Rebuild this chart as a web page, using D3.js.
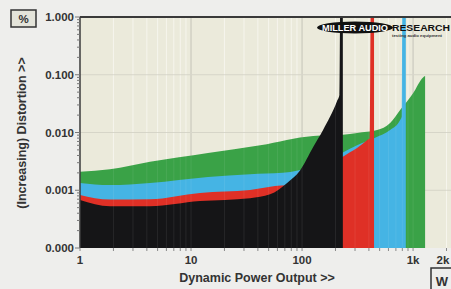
<!DOCTYPE html>
<html><head><meta charset="utf-8">
<script src="https://cdn.jsdelivr.net/npm/d3@7"></script>
<style>html,body{margin:0;padding:0;background:#eeeeec;overflow:hidden}</style>
</head><body><svg id="c" width="451" height="289"></svg>
<script>
// ---- data ----
const greenPower = [1, 1.86, 4.27, 14.2, 42, 126, 233, 313, 474, 621, 764, 1000, 1230, 1283];
const greenDist  = [0.0021, 0.0023, 0.0031, 0.0044, 0.006, 0.0087, 0.0091, 0.0098, 0.011, 0.0146, 0.0245, 0.048, 0.09, 0.095];

const bluePower = [1, 1.86, 4.27, 14.2, 34, 67, 126, 233, 313, 455, 621, 764, 790, 800, 860];
const blueDist  = [0.00134, 0.00123, 0.00134, 0.0017, 0.0019, 0.002, 0.0026, 0.0045, 0.006, 0.0081, 0.011, 0.0164, 0.019, 2, 2];

const redPower = [1, 1.86, 4.27, 12.05, 34, 57, 96, 154, 233, 313, 390, 408, 416, 445];
const redDist  = [0.00083, 0.00069, 0.0007, 0.0009, 0.00101, 0.00118, 0.0013, 0.0018, 0.0038, 0.0054, 0.0075, 0.008, 2, 2];

const blackPower = [1, 1.86, 4.27, 12.05, 34, 51.5, 73.3, 95.9, 126, 154.6, 206.7, 217, 221, 233];
const blackDist  = [0.00068, 0.00053, 0.00053, 0.00065, 0.00073, 0.00085, 0.00134, 0.0022, 0.0056, 0.011, 0.035, 0.045, 2, 2];

const yTickValues = [1, 0.1, 0.01, 0.001, 0.0001];
const yTickLabels = ["1.000", "0.100", "0.010", "0.001", "0.000"];
const xTickValues = [1, 10, 100, 1000, 2000];
const xTickLabels = ["1", "10", "100", "1k", "2k"];

const seriesColors = ["#3aa247", "#45b4e4", "#df3026", "#151517"];

// ---- layout ----
const svg = d3.select("#c");
const L = 80, T = 17, B = 248, R = 451;
const x = d3.scaleLog().domain([1, 2000]).range([L, 446.5]);
const y = d3.scaleLog().domain([0.0001, 1]).range([B, T]);
const FONT = "'Liberation Sans', Arial, sans-serif";

svg.append("rect").attr("x", 0).attr("y", 0).attr("width", 451).attr("height", 289).attr("fill", "#eeeeec");
svg.append("rect").attr("x", L).attr("y", T).attr("width", R - L).attr("height", B - T).attr("fill", "#ebeadb");

const defs = svg.append("defs");
defs.append("clipPath").attr("id", "pc").append("rect")
  .attr("x", L).attr("y", T).attr("width", R - L).attr("height", B - T);

// minor vertical grid
const minorX = [];
for (let d = 1; d <= 1000; d *= 10) for (let k = 1; k <= 9; k++) { const v = d * k; if (v <= 2500) minorX.push(v); }
const grid = svg.append("g").attr("clip-path", "url(#pc)");
grid.selectAll("line.vx").data(minorX).join("line")
  .attr("x1", d => x(d)).attr("x2", d => x(d)).attr("y1", T).attr("y2", B)
  .attr("stroke", d => [10, 100, 1000].includes(d) ? "#c9c8bc" : "#f6f5ec")
  .attr("stroke-width", d => [10, 100, 1000].includes(d) ? 1.2 : 1);
grid.selectAll("line.hy").data([0.1, 0.01, 0.001]).join("line")
  .attr("x1", L).attr("x2", R).attr("y1", d => y(d)).attr("y2", d => y(d))
  .attr("stroke", "#d6d5c8").attr("stroke-width", 1);

// areas
const area = d3.area()
  .x(d => x(d[0])).y0(y(0.0001)).y1(d => y(Math.min(d[1], 2)))
  .curve(d3.curveMonotoneX);
const series = [
  d3.zip(greenPower, greenDist),
  d3.zip(bluePower, blueDist),
  d3.zip(redPower, redDist),
  d3.zip(blackPower, blackDist)
];
const ag = svg.append("g").attr("clip-path", "url(#pc)");
ag.selectAll("path").data(series).join("path")
  .attr("d", area).attr("fill", (d, i) => seriesColors[i]);

// faint gridlines over fills
ag.selectAll("line.ov").data(minorX).join("line")
  .attr("x1", d => x(d)).attr("x2", d => x(d)).attr("y1", T).attr("y2", B)
  .attr("stroke", "#ffffff").attr("stroke-opacity", 0.08);

// axes lines
svg.append("line").attr("x1", L).attr("x2", R).attr("y1", T).attr("y2", T).attr("stroke", "#3a3a3a").attr("stroke-width", 2);
svg.append("line").attr("x1", L).attr("x2", L).attr("y1", T).attr("y2", B).attr("stroke", "#3a3a3a").attr("stroke-width", 1.5);

// y ticks
const minorY = [];
for (let d = 0.0001; d < 1; d *= 10) for (let k = 1; k <= 9; k++) minorY.push(d * k);
minorY.push(1);
svg.append("g").selectAll("line").data(minorY).join("line")
  .attr("x1", d => yTickValues.some(v => Math.abs(v - d) / d < 1e-6) ? L - 5 : L - 3).attr("x2", L)
  .attr("y1", d => y(d)).attr("y2", d => y(d)).attr("stroke", "#777").attr("stroke-width", 1);
svg.append("g").selectAll("text").data(yTickValues).join("text")
  .attr("x", L - 6).attr("y", d => y(d) + 4).attr("text-anchor", "end")
  .attr("font-family", FONT).attr("font-weight", "bold").attr("font-size", 11.5).attr("fill", "#333")
  .text((d, i) => yTickLabels[i]);

// x ticks
svg.append("g").selectAll("line").data(minorX).join("line")
  .attr("x1", d => x(d)).attr("x2", d => x(d)).attr("y1", B).attr("y2", B + 3)
  .attr("stroke", "#888").attr("stroke-width", 1);
svg.append("g").selectAll("text").data(xTickValues).join("text")
  .attr("x", d => Math.min(x(d), 443)).attr("y", 264).attr("text-anchor", "middle")
  .attr("font-family", FONT).attr("font-weight", "bold").attr("font-size", 11.5).attr("fill", "#333")
  .text((d, i) => xTickLabels[i]);

// titles
svg.append("text").attr("x", 257).attr("y", 282).attr("text-anchor", "middle")
  .attr("font-family", FONT).attr("font-weight", "bold").attr("font-size", 12.5).attr("fill", "#333")
  .text("Dynamic Power Output >>");
svg.append("text").attr("transform", "translate(26,133) rotate(-90)").attr("text-anchor", "middle")
  .attr("font-family", FONT).attr("font-weight", "bold").attr("font-size", 12.5).attr("fill", "#333")
  .text("(Increasing) Distortion >>");

// % box
svg.append("rect").attr("x", 11).attr("y", 10).attr("width", 25).attr("height", 17)
  .attr("fill", "#e4e4da").attr("stroke", "#333").attr("stroke-width", 1.5);
svg.append("text").attr("x", 23.5).attr("y", 23).attr("text-anchor", "middle")
  .attr("font-family", FONT).attr("font-weight", "bold").attr("font-size", 11.5).attr("fill", "#333").text("%");

// W box
svg.append("rect").attr("x", 431).attr("y", 268).attr("width", 26).attr("height", 24)
  .attr("fill", "#eeeeec").attr("stroke", "#333").attr("stroke-width", 1.5);
svg.append("text").attr("x", 442).attr("y", 286).attr("text-anchor", "middle")
  .attr("font-family", FONT).attr("font-weight", "bold").attr("font-size", 13).attr("fill", "#333").text("W");

// logo
svg.append("ellipse").attr("cx", 355).attr("cy", 27.5).attr("rx", 38).attr("ry", 6).attr("fill", "#111");
svg.append("text").attr("x", 355).attr("y", 31).attr("text-anchor", "middle")
  .attr("font-family", FONT).attr("font-weight", "bold").attr("font-size", 9).attr("fill", "#fff")
  .attr("textLength", 66).attr("lengthAdjust", "spacingAndGlyphs").text("MILLER AUDIO");
svg.append("text").attr("x", 392).attr("y", 31).attr("text-anchor", "start")
  .attr("font-family", FONT).attr("font-weight", "bold").attr("font-size", 9).attr("fill", "#111")
  .attr("textLength", 58).attr("lengthAdjust", "spacingAndGlyphs").text("RESEARCH");
svg.append("text").attr("x", 392).attr("y", 36.5).attr("text-anchor", "start")
  .attr("font-family", FONT).attr("font-weight", "bold").attr("font-size", 4).attr("fill", "#333")
  .attr("textLength", 50).attr("lengthAdjust", "spacingAndGlyphs").text("testing audio equipment");
</script></body></html>
